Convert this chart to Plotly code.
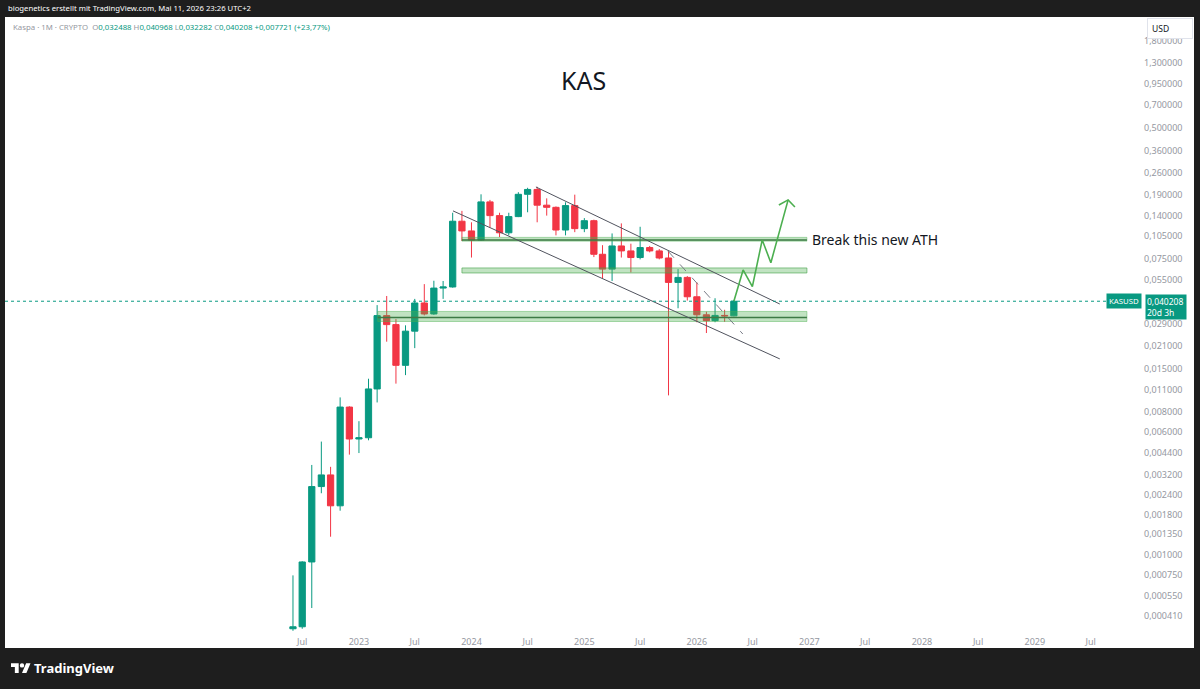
import math
import plotly.graph_objects as go

# ---------------- data ----------------
months = ["2022-06-01", "2022-07-01", "2022-08-01", "2022-09-01", "2022-10-01", "2022-11-01", "2022-12-01",
          "2023-01-01", "2023-02-01", "2023-03-01", "2023-04-01", "2023-05-01", "2023-06-01",
          "2023-07-01", "2023-08-01", "2023-09-01", "2023-10-01", "2023-11-01", "2023-12-01",
          "2024-01-01", "2024-02-01", "2024-03-01", "2024-04-01", "2024-05-01", "2024-06-01",
          "2024-07-01", "2024-08-01", "2024-09-01", "2024-10-01", "2024-11-01", "2024-12-01",
          "2025-01-01", "2025-02-01", "2025-03-01", "2025-04-01", "2025-05-01", "2025-06-01",
          "2025-07-01", "2025-08-01", "2025-09-01", "2025-10-01", "2025-11-01", "2025-12-01",
          "2026-01-01", "2026-02-01", "2026-03-01", "2026-04-01", "2026-05-01"]
opens = [0.00034, 0.00035, 0.00090, 0.0027, 0.0032, 0.00204, 0.0086,
         0.0054, 0.0055, 0.0112, 0.0326, 0.0286, 0.0158,
         0.026, 0.0392, 0.0334, 0.0487, 0.0495, 0.129,
         0.112, 0.098, 0.171, 0.140, 0.109, 0.138,
         0.191, 0.205, 0.163, 0.158, 0.1135, 0.162,
         0.1158, 0.130, 0.0797, 0.0642, 0.090, 0.0837,
         0.076, 0.0879, 0.0837, 0.0755, 0.0529, 0.0569,
         0.0429, 0.033, 0.0303, 0.0327, 0.032488]
highs = [0.00074, 0.00091, 0.0037, 0.0052, 0.0036, 0.0099, 0.0087,
         0.0070, 0.0130, 0.038, 0.0434, 0.031, 0.0283,
         0.0416, 0.0516, 0.0542, 0.054, 0.146, 0.150,
         0.127, 0.191, 0.176, 0.146, 0.146, 0.197,
         0.21, 0.213, 0.18, 0.16, 0.17, 0.19,
         0.135, 0.132, 0.091, 0.108, 0.125, 0.093,
         0.119, 0.090, 0.086, 0.0837, 0.0642, 0.058,
         0.0529, 0.0345, 0.042, 0.0355, 0.040968]
lows = [0.00033, 0.00034, 0.00046, 0.00245, 0.0013, 0.0019, 0.0043,
        0.0044, 0.0053, 0.0092, 0.0223, 0.0121, 0.0137,
        0.0203, 0.0327, 0.033, 0.0416, 0.049, 0.0967,
        0.076, 0.097, 0.1175, 0.1025, 0.105, 0.137,
        0.147, 0.127, 0.14, 0.105, 0.105, 0.11,
        0.11, 0.0765, 0.056, 0.054, 0.076, 0.0612,
        0.074, 0.082, 0.074, 0.0102, 0.0363, 0.0406,
        0.0296, 0.0253, 0.0296, 0.0298, 0.032282]
closes = [0.00035, 0.00090, 0.0027, 0.0032, 0.00204, 0.0086, 0.0054,
          0.0055, 0.0112, 0.0326, 0.0286, 0.0158, 0.026,
          0.0392, 0.0334, 0.0487, 0.0495, 0.129, 0.112,
          0.098, 0.171, 0.140, 0.109, 0.138, 0.191,
          0.205, 0.163, 0.158, 0.1135, 0.162, 0.1158,
          0.130, 0.0797, 0.0642, 0.090, 0.0837, 0.076,
          0.0879, 0.0837, 0.0755, 0.0529, 0.0569, 0.0429,
          0.033, 0.0303, 0.0327, 0.032488, 0.040208]

last_price = 0.040208

# drawings (date, price)
channel_upper_x = ["2024-07-28", "2026-09-27"]
channel_upper_y = [0.2125, 0.0386]
channel_lower_x = ["2023-11-02", "2026-09-27"]
channel_lower_y = [0.150, 0.01735]
dash_x = ["2025-09-29", "2026-05-30"]
dash_y = [0.0836, 0.02495]
zone_upper_start = "2023-12-01"
zone_lower_start = "2023-03-03"
zone_end = "2026-12-24"
zone_ath = [0.0965, 0.1020]
line_ath = 0.0982
zone_mid = [0.0607, 0.0653]
zone_low = [0.02993, 0.03465]
line_low = 0.0317
path_x = ["2026-05-01", "2026-05-31", "2026-06-30", "2026-08-01", "2026-08-29", "2026-10-24"]
path_y = [0.0402, 0.0634, 0.0497, 0.0982, 0.0705, 0.176]
head_x = ["2026-09-24", "2026-10-24", "2026-11-15"]
head_y = [0.1634, 0.176, 0.1588]

y_ticks = [1.8, 1.3, 0.95, 0.7, 0.5, 0.36, 0.26, 0.19, 0.14, 0.105, 0.075, 0.055, 0.029, 0.021,
           0.015, 0.011, 0.008, 0.006, 0.0044, 0.0032, 0.0024, 0.0018, 0.00135, 0.001,
           0.00075, 0.00055, 0.00041]
x_ticks = ["2022-07-01", "2023-01-01", "2023-07-01", "2024-01-01", "2024-07-01", "2025-01-01",
           "2025-07-01", "2026-01-01", "2026-07-01", "2027-01-01", "2027-07-01", "2028-01-01",
           "2028-07-01", "2029-01-01", "2029-07-01"]
x_tick_text = ["Jul", "2023", "Jul", "2024", "Jul", "2025", "Jul", "2026", "Jul", "2027", "Jul",
               "2028", "Jul", "2029", "Jul"]

# ---------------- layout geometry ----------------
W, H = 1200, 689
L, R, T, B = 5, 1143, 17, 632


def px(x):
    return (x - L) / (R - L)


def py(y):
    return (B - y) / (B - T)


GREEN = "#089981"
RED = "#f23645"
FONT = "Noto Sans"

fig = go.Figure()


def band(x0, x1, lo, hi, fill, line):
    fig.add_trace(go.Scatter(x=[x0, x1, x1, x0, x0], y=[lo, lo, hi, hi, lo], mode="lines",
                             fill="toself", fillcolor=fill, line=dict(color=line, width=1),
                             hoverinfo="skip", showlegend=False))


band(zone_upper_start, zone_end, zone_ath[0], zone_ath[1], "rgba(76,175,80,0.35)", "rgba(76,175,80,0.4)")
band(zone_upper_start, zone_end, zone_mid[0], zone_mid[1], "rgba(76,175,80,0.35)", "rgba(67,160,71,0.6)")
band(zone_lower_start, zone_end, zone_low[0], zone_low[1], "rgba(76,175,80,0.35)", "rgba(76,175,80,0.45)")
fig.add_trace(go.Scatter(x=[zone_upper_start, zone_end], y=[line_ath, line_ath], mode="lines",
                         line=dict(color="#3d7a45", width=1.6), hoverinfo="skip", showlegend=False))
fig.add_trace(go.Scatter(x=[zone_lower_start, zone_end], y=[line_low, line_low], mode="lines",
                         line=dict(color="#3d7a45", width=1.6), hoverinfo="skip", showlegend=False))

for xs, ys in [(channel_upper_x, channel_upper_y), (channel_lower_x, channel_lower_y)]:
    fig.add_trace(go.Scatter(x=xs, y=ys, mode="lines", line=dict(color="#50535e", width=1),
                             hoverinfo="skip", showlegend=False))
fig.add_trace(go.Scatter(x=dash_x, y=dash_y, mode="lines", line=dict(color="#787b86", width=1, dash="dash"),
                         hoverinfo="skip", showlegend=False))

fig.add_trace(go.Candlestick(x=months, open=opens, high=highs, low=lows, close=closes,
                             increasing=dict(line=dict(color=GREEN, width=1), fillcolor=GREEN),
                             decreasing=dict(line=dict(color=RED, width=1), fillcolor=RED),
                             whiskerwidth=0, showlegend=False, hoverinfo="skip"))

fig.add_trace(go.Scatter(x=path_x, y=path_y, mode="lines", line=dict(color="#4caf50", width=1.6),
                         hoverinfo="skip", showlegend=False))
fig.add_trace(go.Scatter(x=head_x, y=head_y, mode="lines", line=dict(color="#4caf50", width=1.6),
                         hoverinfo="skip", showlegend=False))

shapes = []
shapes.append(dict(type="rect", xref="paper", yref="paper", x0=px(5), x1=px(1194), y0=py(648), y1=py(17),
                   fillcolor="white", line=dict(width=0), layer="below"))
shapes.append(dict(type="line", xref="paper", yref="y", x0=0, x1=px(1112), y0=last_price, y1=last_price,
                   line=dict(color=GREEN, width=1, dash="dot")))

# TradingView logo icon
s, ox, oy = 0.55, 11, 661


def pt(u, v):
    return px(ox + u * s), py(oy + v * s)


def path(points):
    parts = []
    for i, (u, v) in enumerate(points):
        a, b = pt(u, v)
        parts.append(("M" if i == 0 else "L") + f"{a:.5f},{b:.5f}")
    return " ".join(parts) + " Z"


shapes.append(dict(type="path", xref="paper", yref="paper",
                   path=path([(14, 22), (7, 22), (7, 11), (0, 11), (0, 4), (14, 4)]),
                   fillcolor="white", line=dict(width=0)))
shapes.append(dict(type="path", xref="paper", yref="paper",
                   path=path([(28, 22), (20, 22), (27.5, 4), (35.5, 4)]),
                   fillcolor="white", line=dict(width=0)))
c0 = pt(16, 4)
c1 = pt(24, 12)
shapes.append(dict(type="circle", xref="paper", yref="paper", x0=c0[0], x1=c1[0], y0=c1[1], y1=c0[1],
                   fillcolor="white", line=dict(width=0)))

ann = []
ann.append(dict(xref="paper", yref="paper", x=px(6), y=py(8.5), xanchor="left", yanchor="middle",
                text="biogenetics erstellt mit TradingView.com, Mai 11, 2026 23:26 UTC+2",
                showarrow=False, font=dict(family=FONT, size=7.7, color="#ffffff")))
g = "#9598a1"
legend = (f"<span style='color:{g}'>Kaspa · 1M · CRYPTO</span>  "
          f"<span style='color:{g}'>O</span><span style='color:{GREEN}'>0,032488</span> "
          f"<span style='color:{g}'>H</span><span style='color:{GREEN}'>0,040968</span> "
          f"<span style='color:{g}'>L</span><span style='color:{GREEN}'>0,032282</span> "
          f"<span style='color:{g}'>C</span><span style='color:{GREEN}'>0,040208</span> "
          f"<span style='color:{GREEN}'>+0,007721 (+23,77%)</span>")
ann.append(dict(xref="paper", yref="paper", x=px(11), y=py(27), xanchor="left", yanchor="middle",
                text=legend, showarrow=False, font=dict(family=FONT, size=7.8, color=g)))
ann.append(dict(xref="paper", yref="paper", x=px(583), y=py(80), xanchor="center", yanchor="middle",
                text="KAS", showarrow=False, font=dict(family=FONT, size=25, color="#131722")))
ann.append(dict(xref="x", yref="y", x="2027-01-02", y=math.log10(line_ath), xanchor="left", yanchor="middle",
                text="Break this new ATH", showarrow=False, font=dict(family=FONT, size=14, color="#131722")))
ann.append(dict(xref="paper", yref="y", x=px(1142), y=math.log10(last_price), xanchor="right", yanchor="middle",
                text="KASUSD", showarrow=False, bgcolor=GREEN, borderpad=2,
                font=dict(family=FONT, size=7.8, color="white")))
ann.append(dict(xref="paper", yref="y", x=px(1145), y=math.log10(last_price), xanchor="left", yanchor="top",
                yshift=7, text="0,040208<br>20d 3h", align="left", showarrow=False, bgcolor=GREEN,
                borderpad=1, width=38, font=dict(family=FONT, size=8.5, color="white")))
ann.append(dict(xref="paper", yref="paper", x=px(1147), y=py(28.5), xanchor="left", yanchor="middle",
                text="USD", showarrow=False, bgcolor="white", bordercolor="#e0e3eb", borderwidth=1,
                borderpad=4, width=36, align="left", font=dict(family=FONT, size=8.5, color="#131722")))
ann.append(dict(xref="paper", yref="paper", x=px(32), y=py(668), xanchor="left", yanchor="middle",
                text="<b>TradingView</b>", showarrow=False,
                font=dict(family=FONT, size=13, color="white")))

fig.update_layout(
    width=W, height=H,
    margin=dict(l=L, r=W - R, t=T, b=H - B),
    paper_bgcolor="#1e1e1e", plot_bgcolor="white",
    showlegend=False,
    boxgap=0.15, boxgroupgap=0.15,
    shapes=shapes, annotations=ann,
    xaxis=dict(type="date", range=["2019-11-10", "2029-12-18"], showgrid=False, zeroline=False,
               tickvals=x_ticks, ticktext=x_tick_text, ticks="", showline=False,
               ticklabelstandoff=3,
               tickfont=dict(family=FONT, size=9, color="#9598a1"),
               rangeslider=dict(visible=False), fixedrange=True),
    yaxis=dict(type="log", side="right", range=[-3.489, 0.4031], showgrid=False, zeroline=False,
               tickvals=y_ticks, ticktext=[f"{v:.6f}".replace(".", ",") for v in y_ticks],
               ticks="", showline=False, tickfont=dict(family=FONT, size=9, color="#9598a1"),
               fixedrange=True),
)

fig.write_html("out.html", config={"displayModeBar": False},
               post_script="document.body.style.margin='0';document.body.style.overflow='hidden';")
